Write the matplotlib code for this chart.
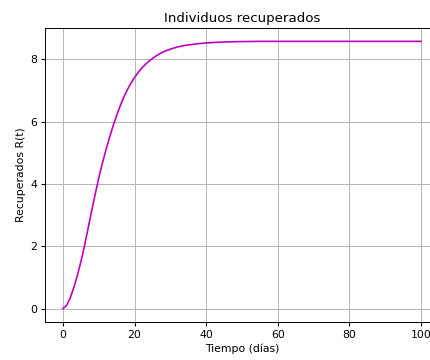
import matplotlib
matplotlib.use("Agg")
import matplotlib.pyplot as plt

# valores (dias, recuperados)
dias = [0, 1, 2, 3, 4, 5, 6, 7, 8, 9, 10, 11, 12, 13, 14, 15, 16, 17, 18, 19,
        20, 21, 22, 23, 24, 25, 26, 27, 28, 29, 30, 32, 34, 36, 38, 40, 44, 48,
        55, 60, 70, 80, 90, 100]
recuperados = [0.00, 0.10, 0.33, 0.66, 1.05, 1.50, 2.00, 2.56, 3.12, 3.67,
               4.19, 4.66, 5.09, 5.49, 5.86, 6.20, 6.51, 6.79, 7.03, 7.24,
               7.42, 7.58, 7.72, 7.84, 7.94, 8.03, 8.11, 8.18, 8.24, 8.29,
               8.33, 8.40, 8.45, 8.48, 8.51, 8.53, 8.555, 8.57,
               8.58, 8.58, 8.58, 8.58, 8.58, 8.58]

plt.rcParams.update({
    "font.size": 7.8,
    "axes.titlesize": 9.6,
    "xtick.major.size": 2.8,
    "ytick.major.size": 2.8,
    "xtick.major.pad": 2.8,
    "ytick.major.pad": 2.8,
    "axes.linewidth": 0.7,
    "grid.linewidth": 0.65,
})

fig = plt.figure(figsize=(4.3, 3.6), dpi=100)
ax = fig.add_axes([45 / 430, 38 / 360, 394 / 430, 294 / 360])
ax.plot(dias, recuperados, color="m", linewidth=1.2)
ax.set_title("Individuos recuperados", pad=4.5)
ax.set_xlabel("Tiempo (días)", labelpad=3)
ax.set_ylabel("Recuperados R(t)", labelpad=3)
ax.grid(True)
fig.savefig("out.png", dpi=100)
